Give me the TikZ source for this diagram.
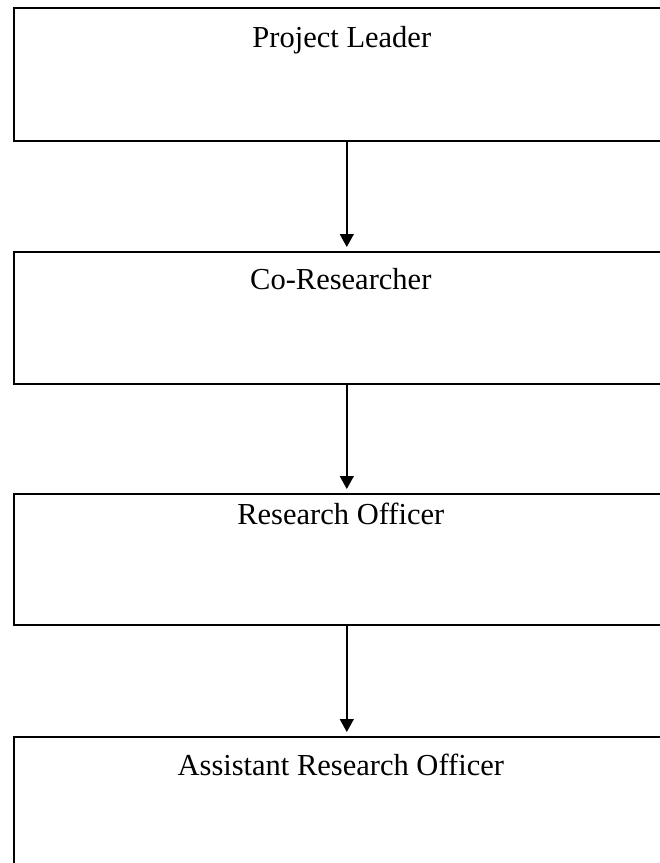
\documentclass[tikz,border=0pt]{standalone}
\usepackage{fontspec}
\setmainfont{Liberation Serif}
\usetikzlibrary{arrows.meta,calc}
\begin{document}
\begin{tikzpicture}[x=1pt,y=-1pt,
  box/.style={draw=black,line width=1.6pt,rectangle,inner sep=0pt,minimum width=666pt,anchor=north west},
  lbl/.style={font=\fontsize{30.5}{34}\selectfont,inner sep=0pt,anchor=base},
  arr/.style={line width=1.4pt,-{Triangle[length=13pt,width=14pt]},shorten >=4pt}]
\useasboundingbox (0,0) rectangle (660,863);
\clip (0,0) rectangle (660,863);
\node[box,minimum height=133pt] (b1) at (13,7) {};
\node[box,minimum height=132pt] (b2) at (13,251) {};
\node[box,minimum height=131pt] (b3) at (13,493) {};
\node[box,minimum height=160pt] (b4) at (13,736) {};
\node[lbl] (t1) at ($(b1.north)+(-5,40)$) {Project Leader};
\node[lbl] (t2) at ($(b2.north)+(-6,38)$) {Co-Researcher};
\node[lbl] (t3) at ($(b3.north)+(-6,31)$) {Research Officer};
\node[lbl] (t4) at ($(b4.north)+(-6,39)$) {Assistant Research Officer};
\draw[arr] (b1.south) -- (b2.north);
\draw[arr] (b2.south) -- (b3.north);
\draw[arr] (b3.south) -- (b4.north);
\end{tikzpicture}
\end{document}
